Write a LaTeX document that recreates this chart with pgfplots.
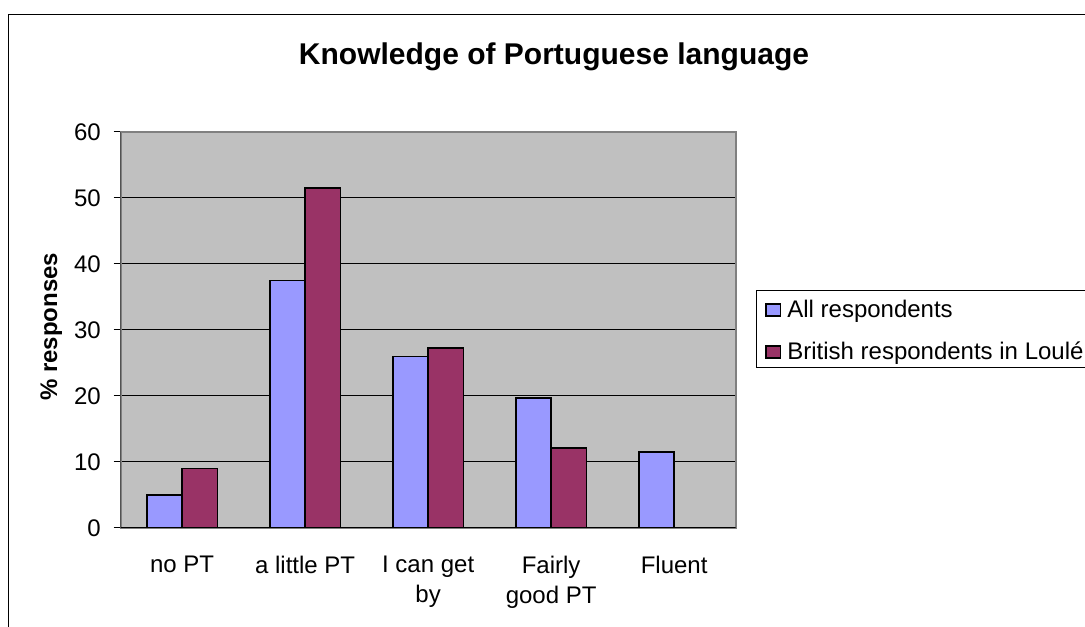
\documentclass[border=0pt]{standalone}
\usepackage{fontspec}
\setmainfont{Liberation Sans}
\usepackage{pgfplots}
\pgfplotsset{compat=1.18}
\definecolor{barblue}{HTML}{9999FF}
\definecolor{barred}{HTML}{993366}
\definecolor{plotbg}{HTML}{C0C0C0}
\definecolor{plotedge}{HTML}{808080}
\begin{document}
\begin{tikzpicture}
\useasboundingbox (0,0) rectangle (813.75pt,470.25pt);
\clip (0,0) rectangle (813.75pt,470.25pt);
% outer chart frame (only top and left are visible)
\draw[line width=1pt] (6.4pt,-5pt) -- (6.4pt,459.5pt) -- (830pt,459.5pt);
\node[font=\fontsize{22.5}{27}\selectfont\bfseries, anchor=base] at (415.5pt,421.5pt) {Knowledge of Portuguese language};
\node[font=\fontsize{18}{22.5}\selectfont\bfseries, rotate=90, anchor=base] at (42.75pt,225.2pt) {\% responses};
\begin{axis}[
  at={(90.5pt,74.25pt)}, anchor=south west,
  scale only axis, width=461.25pt, height=297pt,
  xmin=0.5, xmax=5.5, ymin=0, ymax=60,
  axis background/.style={fill=plotbg},
  axis line style={draw=plotedge, line width=1.5pt},
  ybar=0pt, bar width=26.5pt,
  xtick={1,2,3,4,5},
  xticklabels={no PT, a little PT, {I can get\\by}, {Fairly\\good PT}, Fluent},
  x tick style={draw=none},
  extra x ticks={0.5,1.5,2.5,3.5,4.5,5.5},
  extra x tick labels={},
  extra x tick style={major tick length=5.25pt, tick style={draw=black, line width=0.75pt}},
  ytick={0,10,...,60},
  tick align=outside, tick pos=left,
  major tick length=5.25pt,
  y tick style={draw=black, line width=0.75pt},
  ymajorgrids, grid style={black, line width=0.75pt},
  /pgf/number format/assume math mode=true,
  yticklabel style={font=\fontsize{18}{22.5}\selectfont, anchor=east, inner sep=0pt, xshift=-9.5pt},
  xticklabel style={font=\fontsize{18}{22.5}\selectfont, align=center, anchor=north, inner sep=0pt, yshift=-15.3pt},
  legend style={at={(1.0325,0.601)}, anchor=north west, draw=black, line width=0.75pt, fill=white,
    inner xsep=7pt, inner ysep=3pt, row sep=11.25pt, column sep=4.5pt,
    font=\fontsize{18}{22.5}\selectfont,
    nodes={inner sep=0pt, text height=17.25pt, text depth=3pt}},
  legend cell align=left,
  legend image code/.code={\draw[#1, draw=black, line width=0.9pt] (0pt,-6pt) rectangle (11pt,3pt);},
]
\addplot[fill=barblue, draw=black, line width=1.1pt] coordinates {(1,5.0) (2,37.5) (3,26.0) (4,19.7) (5,11.5)};
\addlegendentry{All respondents}
\addplot[fill=barred, draw=black, line width=1.1pt] coordinates {(1,9.0) (2,51.5) (3,27.3) (4,12.1)};
\addlegendentry{British respondents in Loulé}
\draw[black, line width=0.75pt] (rel axis cs:0,1) -- (rel axis cs:0,0) -- (rel axis cs:1,0);
\end{axis}
\end{tikzpicture}
\end{document}
